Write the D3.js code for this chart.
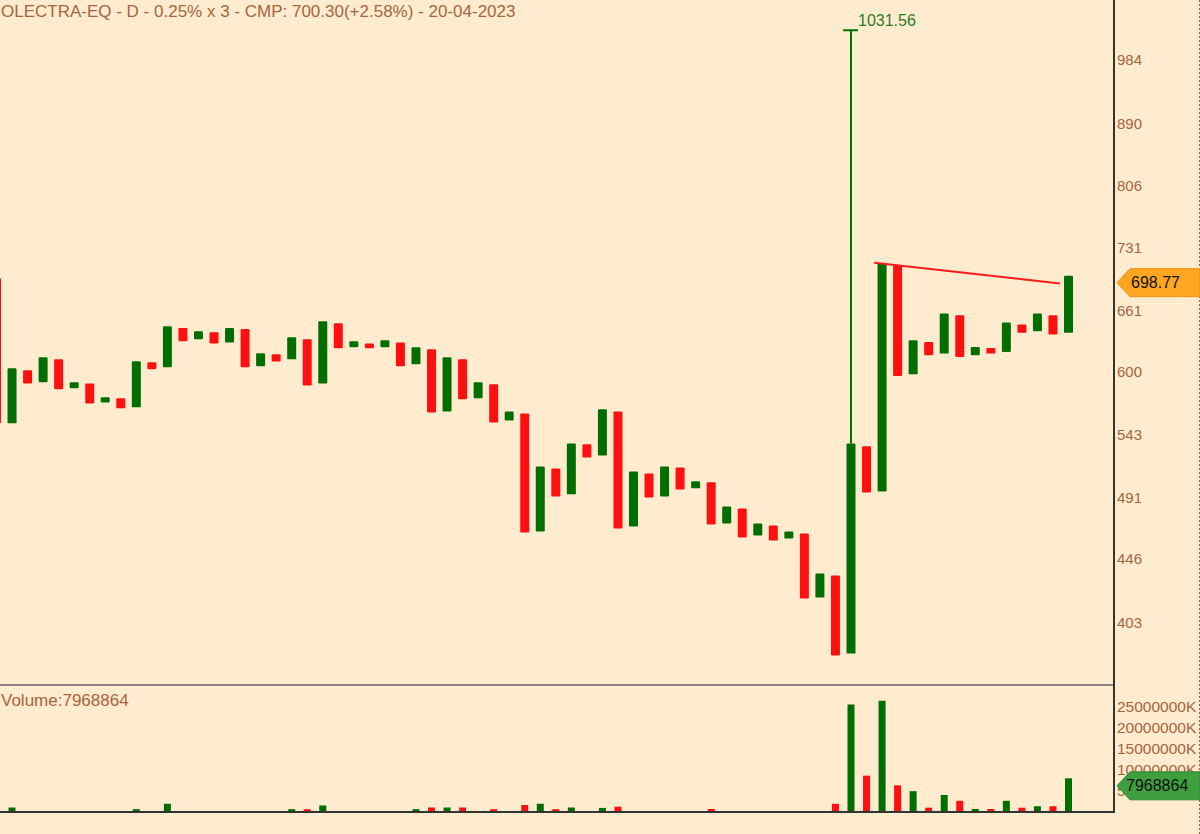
<!DOCTYPE html>
<html>
<head>
<meta charset="utf-8">
<script src="https://cdn.jsdelivr.net/npm/d3@7"></script>
<style>
  body { margin: 0; background: #ffebcd; }
  text { font-family: "Liberation Sans", Arial, sans-serif; }
</style>
</head>
<body>
<div id="chart"></div>
<script>
const title = 'OLECTRA-EQ - D - 0.25% x 3 - CMP: 700.30(+2.58%) - 20-04-2023'

// one entry per column, green when close > open
const openVals = [696.0, 552.8, 601.3, 590.0, 611.9, 584.4, 589.0, 571.5, 575.2, 567.0,
    609.0, 604.2, 643.0, 631.7, 638.7, 628.6, 642.0, 605.2, 616.8, 611.9,
    631.7, 589.0, 648.0, 623.7, 627.6, 623.7, 628.6, 607.1, 621.7, 563.4,
    611.9, 575.2, 588.1, 555.4, 561.6, 465.6, 514.6, 493.9, 534.7, 525.3,
    563.4, 469.4, 510.6, 492.3, 515.4, 498.6, 503.4, 471.6, 483.0, 462.7,
    470.0, 460.5, 464.2, 419.3, 434.2, 383.6, 533.1, 496.2, 710.5, 597.5,
    629.0, 617.5, 656.3, 615.9, 623.0, 619.1, 646.7, 639.9, 656.3, 638.2]
const closeVals = [552.8, 603.2, 589.0, 613.9, 583.5, 590.0, 570.6, 576.1, 566.1, 610.0,
    602.3, 644.9, 629.7, 639.8, 627.6, 643.0, 604.2, 617.8, 609.9, 633.7,
    587.1, 650.0, 622.7, 629.7, 622.7, 630.7, 605.2, 623.7, 562.5, 613.9,
    574.3, 590.0, 553.6, 563.4, 464.9, 516.3, 492.3, 535.5, 523.7, 565.2,
    467.9, 512.2, 491.5, 516.3, 497.8, 504.2, 470.8, 484.5, 461.2, 471.6,
    459.0, 465.6, 418.6, 435.6, 382.4, 535.5, 495.4, 712.8, 595.9, 630.7,
    615.9, 658.0, 614.2, 624.0, 617.5, 648.7, 638.2, 658.0, 636.6, 698.77]
const volumes = [1400000, 1000000, 0, 0, 0, 0, 0, 0, 0, 600000,
    0, 1900000, 0, 0, 0, 0, 0, 0, 0, 600000,
    600000, 1500000, 0, 0, 0, 0, 0, 600000, 1000000, 1000000,
    1000000, 0, 600000, 0, 1600000, 1900000, 600000, 1000000, 0, 900000,
    1200000, 0, 0, 0, 0, 0, 650000, 0, 0, 0,
    0, 0, 0, 0, 1900000, 25600000, 8600000, 26500000, 6300000, 4900000,
    950000, 4000000, 2600000, 640000, 640000, 2600000, 950000, 1300000, 1300000, 7968864]

const priceTicks = [984, 890, 806, 731, 661, 600, 543, 491, 446, 403]
const volumeTicks = [25000000, 20000000, 15000000, 10000000, 5000000]
const spikeIndex = 55
const spikeHigh = 1031.56
const lastPrice = 698.77
const lastVolume = 7968864
const trendLine = [[56.5, 713.2], [68.45, 690.2]]

const width = 1200
const height = 834
const plotRight = 1114
const panelSplit = 685
const bottomY = 812
const green = '#006e00'
const red = '#ff1010'
const brown = '#a8653f'

const x = d3.scaleLinear().domain([0, 69]).range([-3.5, 1068.5])
const y = d3.scaleLog().domain([403, 984]).range([622.5, 60])
const yVol = d3.scaleLinear().domain([0, 25000000]).range([811.7, 707])

const svg = d3.select('#chart').append('svg')
    .attr('width', width)
    .attr('height', height)

svg.append('rect')
    .attr('width', width)
    .attr('height', height)
    .attr('fill', '#ffebcd')

const defs = svg.append('defs')
defs.append('clipPath').attr('id', 'priceClip')
    .append('rect').attr('x', 0).attr('y', 0).attr('width', plotRight).attr('height', panelSplit)
defs.append('clipPath').attr('id', 'volClip')
    .append('rect').attr('x', 0).attr('y', panelSplit).attr('width', plotRight).attr('height', bottomY - panelSplit)

const cols = openVals.map((o, i) => ({
    i,
    open: o,
    close: closeVals[i],
    up: closeVals[i] > o,
    vol: volumes[i]
}))

// price boxes
const priceG = svg.append('g').attr('clip-path', 'url(#priceClip)')

priceG.append('line')
    .attr('x1', x(spikeIndex))
    .attr('x2', x(spikeIndex))
    .attr('y1', y(Math.max(openVals[spikeIndex], closeVals[spikeIndex])))
    .attr('y2', y(spikeHigh))
    .attr('stroke', green)
    .attr('stroke-width', 2)
priceG.append('line')
    .attr('x1', x(spikeIndex) - 8)
    .attr('x2', x(spikeIndex) + 7)
    .attr('y1', y(spikeHigh))
    .attr('y2', y(spikeHigh))
    .attr('stroke', green)
    .attr('stroke-width', 2)

priceG.selectAll('rect.box')
    .data(cols)
    .join('rect')
    .attr('class', 'box')
    .attr('x', d => x(d.i) - 4.5)
    .attr('width', 9)
    .attr('y', d => y(Math.max(d.open, d.close)))
    .attr('height', d => y(Math.min(d.open, d.close)) - y(Math.max(d.open, d.close)))
    .attr('rx', 1.2)
    .attr('fill', d => d.up ? green : red)

priceG.append('line')
    .attr('x1', x(trendLine[0][0]))
    .attr('y1', y(trendLine[0][1]))
    .attr('x2', x(trendLine[1][0]))
    .attr('y2', y(trendLine[1][1]))
    .attr('stroke', '#ff1a1a')
    .attr('stroke-width', 2)

svg.append('text')
    .attr('x', x(spikeIndex) + 7)
    .attr('y', y(spikeHigh) - 10)
    .attr('dy', '0.35em')
    .attr('fill', '#2a7d2a')
    .attr('font-size', 16)
    .text(d3.format('.2f')(spikeHigh))

// volume bars
const volG = svg.append('g').attr('clip-path', 'url(#volClip)')
volG.selectAll('rect')
    .data(cols.filter(d => d.vol > 0))
    .join('rect')
    .attr('x', d => x(d.i) - 3.5)
    .attr('width', 7)
    .attr('y', d => yVol(d.vol))
    .attr('height', d => yVol(0) - yVol(d.vol))
    .attr('fill', d => d.up ? green : red)

// frame
svg.append('line')
    .attr('x1', 0).attr('x2', plotRight)
    .attr('y1', panelSplit).attr('y2', panelSplit)
    .attr('stroke', '#8a8580').attr('stroke-width', 2)
svg.append('line')
    .attr('x1', 0).attr('x2', plotRight + 1)
    .attr('y1', bottomY).attr('y2', bottomY)
    .attr('stroke', '#333').attr('stroke-width', 2)
svg.append('line')
    .attr('x1', plotRight).attr('x2', plotRight)
    .attr('y1', 0).attr('y2', bottomY + 1)
    .attr('stroke', '#333').attr('stroke-width', 2)
svg.append('line')
    .attr('x1', 1199.5).attr('x2', 1199.5)
    .attr('y1', 0).attr('y2', height)
    .attr('stroke', '#d0503a').attr('stroke-width', 1)
    .attr('stroke-dasharray', '2,2')

// axis labels
const priceAxis = d3.axisRight(y)
    .tickValues(priceTicks)
    .tickSize(0)
    .tickPadding(3)
    .tickFormat(d3.format('d'))
svg.append('g')
    .attr('transform', `translate(${plotRight}, 0)`)
    .call(priceAxis)
    .call(g => g.select('.domain').remove())
    .call(g => g.selectAll('text').attr('fill', brown).attr('font-size', 15).attr('font-family', '"Liberation Sans", Arial, sans-serif'))

// the 5000000K label sits mostly behind the volume tag, as in the source
const volAxis = d3.axisRight(yVol)
    .tickValues(volumeTicks)
    .tickSize(0)
    .tickPadding(3)
    .tickFormat(d => `${d}K`)
svg.append('g')
    .attr('transform', `translate(${plotRight}, 0)`)
    .call(volAxis)
    .call(g => g.select('.domain').remove())
    .call(g => g.selectAll('text').attr('fill', brown).attr('font-size', 15.5).attr('font-family', '"Liberation Sans", Arial, sans-serif'))

// value tags
function tag(yc, fill, stroke, label, textX) {
    const h = 14
    svg.append('path')
        .attr('d', `M${plotRight + 3},${yc} L${plotRight + 16},${yc - h} L${width},${yc - h} L${width},${yc + h} L${plotRight + 16},${yc + h} Z`)
        .attr('fill', fill)
        .attr('stroke', stroke)
        .attr('stroke-width', 1)
    svg.append('text')
        .attr('x', textX)
        .attr('y', yc)
        .attr('dy', '0.35em')
        .attr('font-size', 16)
        .attr('fill', '#111')
        .text(label)
}
tag(y(lastPrice) + 7, '#ffa620', '#f09010', d3.format('.2f')(lastPrice), 1131)
tag(yVol(lastVolume) + 7.5, '#3f9f3f', '#2f8a2f', lastVolume, 1126)

// titles
svg.append('text')
    .attr('x', 1)
    .attr('y', 11)
    .attr('dy', '0.35em')
    .attr('font-size', 17)
    .attr('fill', brown)
    .text(title)

svg.append('text')
    .attr('x', 1)
    .attr('y', 700)
    .attr('dy', '0.35em')
    .attr('font-size', 17)
    .attr('fill', brown)
    .text(`Volume:${lastVolume}`)
</script>
</body>
</html>
